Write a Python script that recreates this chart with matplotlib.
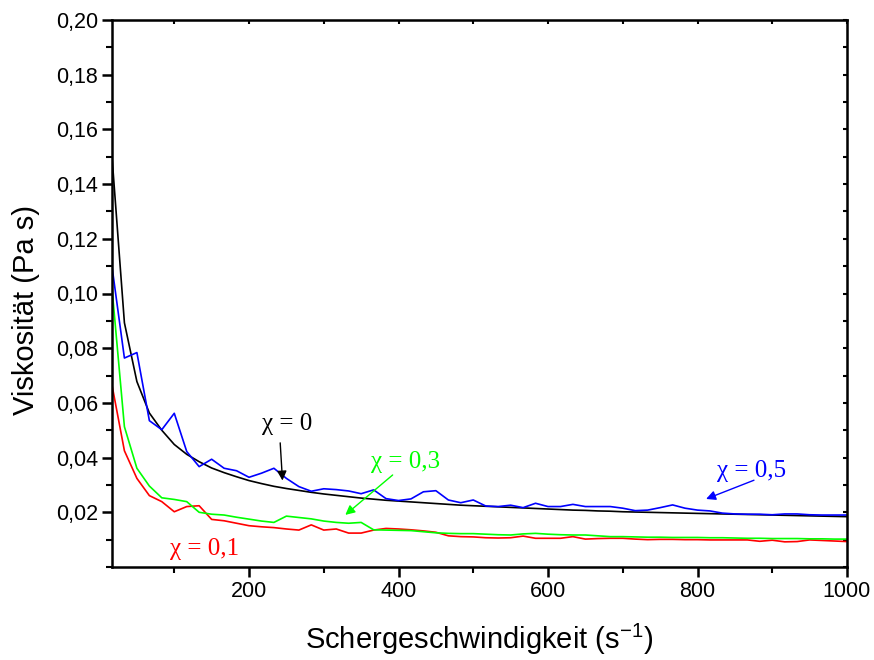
import numpy as np
import matplotlib
matplotlib.use('Agg')
import matplotlib.pyplot as plt
from matplotlib.ticker import MultipleLocator, FixedLocator, FuncFormatter

'''------DATA------'''
shear_rate = [16.7, 33.3, 50.0, 66.7, 83.3, 100.0, 116.7, 133.3, 150.0, 166.7,
              183.3, 200.0, 216.7, 233.3, 250.0, 266.7, 283.3, 300.0, 316.7, 333.3,
              350.0, 366.7, 383.3, 400.0, 416.7, 433.3, 450.0, 466.7, 483.3, 500.0,
              516.7, 533.3, 550.0, 566.7, 583.3, 600.0, 616.7, 633.3, 650.0, 666.7,
              683.3, 700.0, 716.7, 733.3, 750.0, 766.7, 783.3, 800.0, 816.7, 833.3,
              850.0, 866.7, 883.3, 900.0, 916.7, 933.3, 950.0, 966.7, 983.3, 1000.0]

visc_chi0 = [0.150, 0.0893, 0.0678, 0.0563, 0.0500, 0.0448, 0.0412, 0.0385, 0.0362, 0.0345,
             0.0330, 0.0316, 0.0305, 0.0295, 0.0287, 0.0280, 0.0273, 0.0267, 0.0262, 0.0257,
             0.0252, 0.0248, 0.0244, 0.0241, 0.0238, 0.0235, 0.0232, 0.0229, 0.0226, 0.0224,
             0.0222, 0.0220, 0.0218, 0.0216, 0.0214, 0.0212, 0.0210, 0.0208, 0.0207, 0.0205,
             0.0204, 0.0202, 0.0201, 0.0200, 0.0199, 0.0198, 0.0197, 0.0196, 0.0195, 0.0194,
             0.0193, 0.0192, 0.0191, 0.0190, 0.0189, 0.0188, 0.0187, 0.0186, 0.0185, 0.0184]

visc_chi01 = [0.0665, 0.0425, 0.0324, 0.0261, 0.0239, 0.0202, 0.0221, 0.0224, 0.0174, 0.0169,
              0.0160, 0.0151, 0.0147, 0.0144, 0.0139, 0.0135, 0.0154, 0.0135, 0.0139, 0.0124,
              0.0124, 0.0135, 0.0141, 0.0139, 0.0136, 0.0132, 0.0127, 0.0114, 0.0111, 0.0110,
              0.0107, 0.0106, 0.0107, 0.0113, 0.0105, 0.0105, 0.0105, 0.0111, 0.0102, 0.0104,
              0.0105, 0.0105, 0.0102, 0.0100, 0.0101, 0.0101, 0.0100, 0.0100, 0.0099, 0.0099,
              0.0099, 0.0099, 0.0094, 0.0098, 0.0092, 0.0093, 0.0099, 0.0097, 0.0095, 0.0093]

visc_chi03 = [0.1019, 0.0513, 0.0361, 0.0296, 0.0253, 0.0247, 0.0239, 0.0200, 0.0193, 0.0190,
              0.0182, 0.0175, 0.0168, 0.0163, 0.0186, 0.0181, 0.0176, 0.0168, 0.0163, 0.0160,
              0.0163, 0.0136, 0.0135, 0.0134, 0.0133, 0.0129, 0.0125, 0.0123, 0.0122, 0.0122,
              0.0120, 0.0118, 0.0117, 0.0121, 0.0123, 0.0120, 0.0118, 0.0117, 0.0117, 0.0114,
              0.0111, 0.0111, 0.0110, 0.0109, 0.0109, 0.0108, 0.0108, 0.0108, 0.0107, 0.0107,
              0.0106, 0.0105, 0.0105, 0.0104, 0.0104, 0.0104, 0.0103, 0.0103, 0.0102, 0.0102]

visc_chi05 = [0.1098, 0.0764, 0.0784, 0.0535, 0.0502, 0.0562, 0.0422, 0.0367, 0.0394, 0.0361,
              0.0352, 0.0328, 0.0343, 0.0361, 0.0324, 0.0294, 0.0277, 0.0286, 0.0283, 0.0278,
              0.0268, 0.0282, 0.0250, 0.0243, 0.0249, 0.0275, 0.0279, 0.0245, 0.0235, 0.0245,
              0.0223, 0.0221, 0.0226, 0.0217, 0.0233, 0.0221, 0.0221, 0.0229, 0.0221, 0.0221,
              0.0221, 0.0215, 0.0206, 0.0208, 0.0217, 0.0227, 0.0215, 0.0208, 0.0205, 0.0197,
              0.0194, 0.0193, 0.0193, 0.0191, 0.0194, 0.0194, 0.0191, 0.0190, 0.0190, 0.0190]

x_ticks = [200, 400, 600, 800, 1000]
y_ticks = [0.02, 0.04, 0.06, 0.08, 0.10, 0.12, 0.14, 0.16, 0.18, 0.20]
'''------DATA------'''

plt.rcParams['font.family'] = ['Liberation Sans', 'DejaVu Sans']
plt.rcParams['mathtext.fontset'] = 'custom'
plt.rcParams['mathtext.rm'] = 'Liberation Sans'
plt.rcParams['mathtext.it'] = 'Liberation Sans'

fig = plt.figure(figsize=(8.74, 6.6), dpi=100)
ax = fig.add_axes([112/874, 1 - 567/660, 735/874, 547/660])

ax.plot(shear_rate, visc_chi0, color='black', lw=1.2)
ax.plot(shear_rate, visc_chi01, color='#ff0000', lw=1.2)
ax.plot(shear_rate, visc_chi03, color='#00ff00', lw=1.2)
ax.plot(shear_rate, visc_chi05, color='#0000ff', lw=1.2)

ax.set_xlim(16.7, 1000)
ax.set_ylim(0, 0.2)

ax.xaxis.set_major_locator(FixedLocator(x_ticks))
ax.xaxis.set_minor_locator(MultipleLocator(100))
ax.yaxis.set_major_locator(FixedLocator(y_ticks))
ax.yaxis.set_minor_locator(MultipleLocator(0.01))
ax.yaxis.set_major_formatter(FuncFormatter(lambda v, p: ('%.2f' % v).replace('.', ',')))

ax.tick_params(which='major', direction='out', length=7, width=1.8, labelsize=15.5, pad=3)
ax.tick_params(which='minor', direction='out', length=4, width=1.5)
for s in ax.spines.values():
    s.set_linewidth(1.8)

# inward ticks on top and right, no labels
top = ax.secondary_xaxis('top')
top.xaxis.set_major_locator(FixedLocator(x_ticks))
top.xaxis.set_minor_locator(MultipleLocator(100))
top.tick_params(which='both', direction='in', length=3, width=1.5, labeltop=False)
right = ax.secondary_yaxis('right')
right.yaxis.set_major_locator(FixedLocator(y_ticks))
right.yaxis.set_minor_locator(MultipleLocator(0.01))
right.tick_params(which='both', direction='in', length=3, width=1.5, labelright=False)

ax.set_xlabel('Schergeschwindigkeit (s$^{-1}$)', fontsize=21, labelpad=14)
ax.set_ylabel('Viskosität (Pa s)', fontsize=21)
ax.yaxis.set_label_coords(-0.098, 0.47)

serif = ['Liberation Serif', 'DejaVu Serif']
ax.text(251, 0.0523, 'χ = 0', color='black', fontsize=18, family=serif, ha='center', va='center')
ax.annotate('', xy=(245, 0.0306), xytext=(241.5, 0.0464),
            arrowprops=dict(arrowstyle='-|>', color='black', lw=1.0, mutation_scale=14))
ax.text(410, 0.0384, 'χ = 0,3', color='#00ff00', fontsize=18, family=serif, ha='center', va='center')
ax.annotate('', xy=(326, 0.0184), xytext=(395, 0.0343),
            arrowprops=dict(arrowstyle='-|>', color='#00ff00', lw=1.0, mutation_scale=14))
ax.text(872, 0.0351, 'χ = 0,5', color='#0000ff', fontsize=18, family=serif, ha='center', va='center')
ax.annotate('', xy=(808, 0.0245), xytext=(879, 0.0321),
            arrowprops=dict(arrowstyle='-|>', color='#0000ff', lw=1.0, mutation_scale=14))
ax.text(141, 0.0066, 'χ = 0,1', color='#ff0000', fontsize=18, family=serif, ha='center', va='center')

plt.savefig('out.png', dpi=100)
